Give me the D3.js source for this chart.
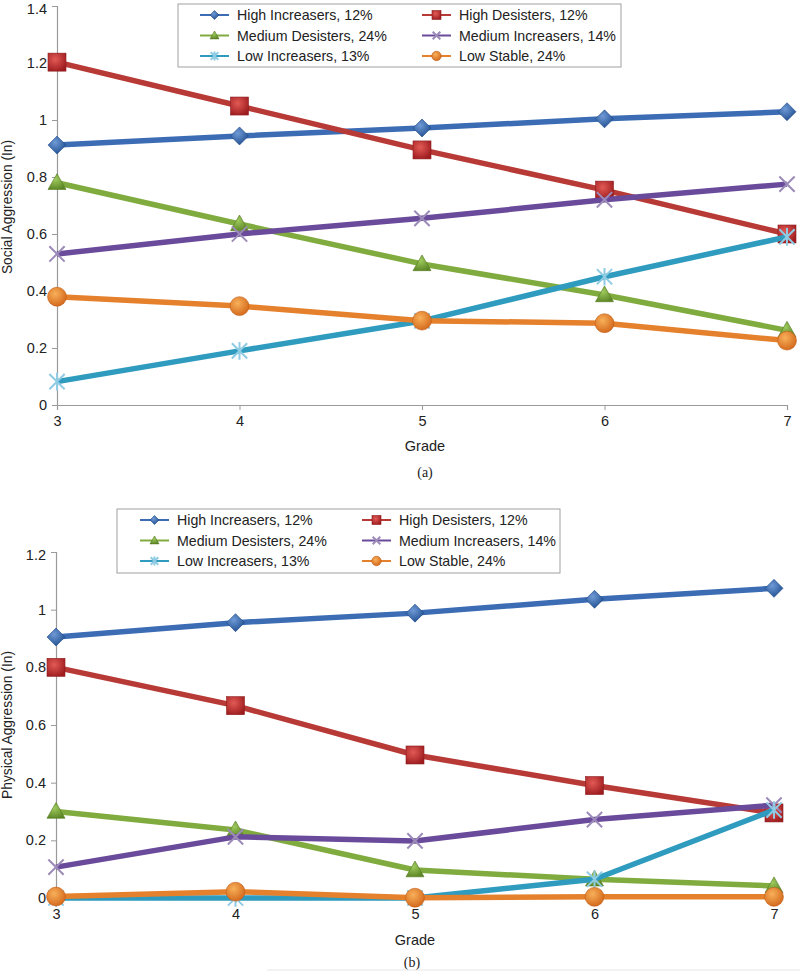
<!DOCTYPE html>
<html><head><meta charset="utf-8">
<script src="https://cdn.jsdelivr.net/npm/d3@7"></script>
<style>body{margin:0;background:#fff;}svg{display:block;font-family:"Liberation Sans",Arial,Helvetica,sans-serif;}</style>
</head><body>
<script>
const grades = [3, 4, 5, 6, 7];
const seriesNames = ["High Increasers, 12%", "High Desisters, 12%", "Medium Desisters, 24%", "Medium Increasers, 14%", "Low Increasers, 13%", "Low Stable, 24%"];
const seriesKeys = ["hi", "hd", "md", "mi", "li", "ls"];
// Panel (a): Social aggression
const socialHI = [0.912, 0.944, 0.972, 1.004, 1.029];
const socialHD = [1.203, 1.049, 0.895, 0.754, 0.600];
const socialMD = [0.780, 0.635, 0.495, 0.386, 0.262];
const socialMI = [0.530, 0.600, 0.655, 0.720, 0.775];
const socialLI = [0.082, 0.190, 0.295, 0.450, 0.590];
const socialLS = [0.380, 0.347, 0.296, 0.287, 0.226];
// Panel (b): Physical aggression
const physHI = [0.905, 0.955, 0.988, 1.036, 1.074];
const physHD = [0.800, 0.667, 0.496, 0.390, 0.295];
const physMD = [0.300, 0.236, 0.097, 0.065, 0.042];
const physMI = [0.107, 0.212, 0.198, 0.272, 0.322];
const physLI = [0.000, 0.000, 0.000, 0.065, 0.305];
const physLS = [0.005, 0.022, 0.001, 0.004, 0.004];
const socialTicks = [0, 0.2, 0.4, 0.6, 0.8, 1, 1.2, 1.4];
const physTicks = [0, 0.2, 0.4, 0.6, 0.8, 1, 1.2];

const style = {
  hi: {line: "#3b6cb4", fill: "#2d5fa6", shape: "diamond"},
  hd: {line: "#b83a36", fill: "#c42a2c", shape: "square"},
  md: {line: "#80ab3f", fill: "#6f9c2f", shape: "triangle"},
  mi: {line: "#6a4b9b", fill: "#9c8bb8", shape: "x"},
  li: {line: "#2e9bbf", fill: "#8fcbe3", shape: "star"},
  ls: {line: "#e5812c", fill: "#ee8a24", shape: "circle"}
};

const svg = d3.select("body").append("svg").attr("width", 800).attr("height", 972);
const defs = svg.append("defs");
function grad(id, c0, c1) {
  const g = defs.append("radialGradient").attr("id", id).attr("cx", "40%").attr("cy", "35%").attr("r", "70%");
  g.append("stop").attr("offset", "0%").attr("stop-color", c0);
  g.append("stop").attr("offset", "100%").attr("stop-color", c1);
}
grad("g-hi", "#6f9ad6", "#1f4d8f");
grad("g-hd", "#e25a55", "#9e1c1f");
grad("g-md", "#9fcb5e", "#5b8424");
grad("g-ls", "#f8b05a", "#d2661a");

function drawMarker(g, key, cx, cy, s) {
  const st = style[key];
  const fill = st.shape === "x" || st.shape === "star" ? st.fill : `url(#g-${key})`;
  if (st.shape === "diamond") {
    g.append("path").attr("d", `M${cx},${cy - s}L${cx + s},${cy}L${cx},${cy + s}L${cx - s},${cy}Z`).attr("fill", fill).attr("stroke", "#1f4a86").attr("stroke-width", 0.6);
  } else if (st.shape === "square") {
    g.append("rect").attr("x", cx - s).attr("y", cy - s).attr("width", s * 2).attr("height", s * 2).attr("fill", fill).attr("stroke", "#8e1d1f").attr("stroke-width", 0.6);
  } else if (st.shape === "triangle") {
    g.append("path").attr("d", `M${cx},${cy - s}L${cx + s},${cy + s * 0.75}L${cx - s},${cy + s * 0.75}Z`).attr("fill", fill).attr("stroke", "#54791f").attr("stroke-width", 0.6);
  } else if (st.shape === "circle") {
    g.append("circle").attr("cx", cx).attr("cy", cy).attr("r", s * 1.05).attr("fill", fill).attr("stroke", "#c25d15").attr("stroke-width", 0.6);
  } else if (st.shape === "x") {
    const d = s * 0.85;
    g.append("path").attr("d", `M${cx - d},${cy - d}L${cx + d},${cy + d}M${cx - d},${cy + d}L${cx + d},${cy - d}`).attr("stroke", st.fill).attr("stroke-width", 2).attr("fill", "none");
  } else if (st.shape === "star") {
    const d = s * 0.85;
    g.append("path").attr("d", `M${cx - d},${cy - d}L${cx + d},${cy + d}M${cx - d},${cy + d}L${cx + d},${cy - d}M${cx},${cy - d * 1.15}L${cx},${cy + d * 1.15}`).attr("stroke", st.fill).attr("stroke-width", 2).attr("fill", "none");
  }
}

function panel(opts) {
  const g = svg.append("g");
  const x = d3.scaleLinear().domain([3, 7]).range(opts.xr);
  const y = d3.scaleLinear().domain([0, opts.ymax]).range(opts.yr);
  // axes
  const ya = g.append("g").attr("transform", `translate(${opts.xr[0]},0)`)
    .call(d3.axisLeft(y).tickValues(opts.ticks).tickFormat(d3.format("~g")).tickSize(5).tickPadding(5));
  const xa = g.append("g").attr("transform", `translate(0,${opts.yr[0]})`)
    .call(d3.axisBottom(x).tickValues(grades).tickFormat(d3.format("d")).tickSize(5).tickPadding(6));
  [ya, xa].forEach(a => {
    a.select(".domain").attr("stroke", "#9a9a9a").attr("stroke-width", 1.2);
    a.selectAll(".tick line").attr("stroke", "#9a9a9a");
    a.selectAll(".tick text").attr("font-size", 14.5).attr("fill", "#222").attr("font-family", "'Liberation Sans',Arial,sans-serif");
  });
  ya.selectAll(".tick text").filter(d => d === opts.ymax).attr("dy", "0.5em");
  // series
  const line = d3.line().x((d, i) => x(grades[i])).y(d => y(d));
  opts.data.forEach((vals, k) => {
    const key = seriesKeys[k];
    const sg = g.append("g");
    sg.append("path").datum(vals).attr("d", line).attr("fill", "none").attr("stroke", style[key].line).attr("stroke-width", 5.5).attr("stroke-linejoin", "round");
    vals.forEach((v, i) => drawMarker(sg, key, x(grades[i]), y(v), 9));
  });
  // axis titles
  g.append("text").attr("x", opts.gradeX).attr("y", opts.gradeY).attr("text-anchor", "middle").attr("font-size", 14.5).attr("fill", "#222").text("Grade");
  g.append("text").attr("transform", `translate(12,${opts.ylabY}) rotate(-90)`).attr("text-anchor", "middle").attr("font-size", 13.8).attr("fill", "#222").text(opts.ylab);
  g.append("text").attr("x", opts.capX).attr("y", opts.capY).attr("text-anchor", "middle").attr("font-size", 14).attr("font-family", "'Liberation Serif','Times New Roman',serif").attr("fill", "#222").text(opts.cap);
  // legend
  const L = opts.legend;
  g.append("rect").attr("x", L.x).attr("y", L.y).attr("width", L.w).attr("height", L.h).attr("fill", "#fff").attr("stroke", "#a0a0a0").attr("stroke-width", 1);
  seriesKeys.forEach((key, k) => {
    const col = k % 2, row = Math.floor(k / 2);
    const lx = L.x + L.c[col], ly = L.y + 11 + row * 20.5;
    g.append("line").attr("x1", lx).attr("x2", lx + 29).attr("y1", ly).attr("y2", ly).attr("stroke", style[key].line).attr("stroke-width", 2);
    drawMarker(g, key, lx + 14.5, ly, 4.5);
    g.append("text").attr("x", lx + 37).attr("y", ly + 5.3).attr("font-size", 14.2).attr("fill", "#222").text(seriesNames[k]);
  });
}

panel({
  xr: [57, 787], yr: [405, 6], ymax: 1.4, ticks: socialTicks,
  data: [socialHI, socialHD, socialMD, socialMI, socialLI, socialLS],
  gradeX: 425, gradeY: 451, ylab: "Social Aggression (In)", ylabY: 207, cap: "(a)", capX: 425, capY: 477,
  legend: {x: 178, y: 4, w: 443, h: 63, c: [22, 244]}
});
panel({
  xr: [56, 774], yr: [898, 552], ymax: 1.2, ticks: physTicks,
  data: [physHI, physHD, physMD, physMI, physLI, physLS],
  gradeX: 415, gradeY: 945, ylab: "Physical Aggression (In)", ylabY: 725, cap: "(b)", capX: 412, capY: 967,
  legend: {x: 117, y: 509, w: 443, h: 64, c: [23, 245]}
});
svg.append("line").attr("x1", 267).attr("x2", 800).attr("y1", 970).attr("y2", 970).attr("stroke", "#e6e6e6").attr("stroke-width", 1);
</script>
</body></html>
